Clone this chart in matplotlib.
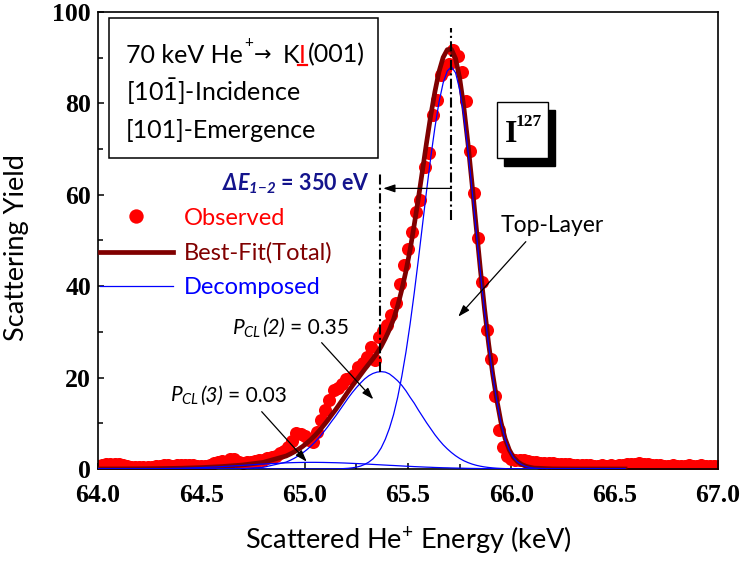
import matplotlib
matplotlib.use("Agg")
import matplotlib.pyplot as plt
from matplotlib import transforms
from matplotlib.patches import Rectangle
from matplotlib.lines import Line2D
from matplotlib.ticker import FixedLocator

# ---------------- data ----------------
energy_obs = [
    64.00, 64.02, 64.04, 64.06, 64.08, 64.10, 64.12, 64.14, 64.16, 64.18,
    64.20, 64.22, 64.24, 64.26, 64.28, 64.30, 64.32, 64.34, 64.36, 64.38,
    64.40, 64.42, 64.44, 64.46, 64.48, 64.50, 64.52, 64.54, 64.56, 64.58,
    64.60, 64.62, 64.64, 64.66, 64.68, 64.70, 64.72, 64.74, 64.76, 64.78,
    64.80, 64.82, 64.84, 64.86, 64.88, 64.90, 64.92, 64.94, 64.96, 64.98,
    65.00, 65.02, 65.04, 65.06, 65.08, 65.10, 65.12, 65.14, 65.16, 65.18,
    65.20, 65.22, 65.24, 65.26, 65.28, 65.30, 65.32, 65.34, 65.36, 65.38,
    65.40, 65.42, 65.44, 65.46, 65.48, 65.50, 65.52, 65.54, 65.56, 65.58,
    65.60, 65.62, 65.64, 65.66, 65.68, 65.70, 65.72, 65.74, 65.76, 65.78,
    65.80, 65.82, 65.84, 65.86, 65.88, 65.90, 65.92, 65.94, 65.96, 65.98,
    66.00, 66.02, 66.04, 66.06, 66.08, 66.10, 66.12, 66.14, 66.16, 66.18,
    66.20, 66.22, 66.24, 66.26, 66.28, 66.30, 66.32, 66.34, 66.36, 66.38,
    66.40, 66.42, 66.44, 66.46, 66.48, 66.50, 66.52, 66.54, 66.56, 66.58,
    66.60, 66.62, 66.64, 66.66, 66.68, 66.70, 66.72, 66.74, 66.76, 66.78,
    66.80, 66.82, 66.84, 66.86, 66.88, 66.90, 66.92, 66.94, 66.96, 66.98,
    67.00]
yield_obs = [
    0.7, 0.8, 1.0, 1.0, 1.1, 1.0, 0.9, 0.6, 0.5, 0.5,
    0.5, 0.4, 0.5, 0.5, 0.6, 0.6, 0.8, 0.8, 0.7, 0.8,
    0.8, 0.9, 0.8, 0.8, 0.7, 0.6, 0.7, 0.8, 1.2, 1.6,
    1.7, 1.6, 2.2, 2.1, 1.5, 1.4, 1.5, 1.6, 1.8, 1.9,
    2.0, 2.3, 2.6, 2.9, 3.4, 3.9, 4.8, 6.2, 7.8, 7.7,
    7.2, 6.4, 6.0, 8.0, 10.8, 12.9, 15.2, 17.2, 17.7, 18.6,
    19.6, 20.0, 20.6, 22.3, 23.2, 24.6, 26.6, 23.8, 28.8, 30.2,
    31.4, 33.6, 36.4, 40.5, 44.6, 48.2, 51.8, 56.2, 58.8, 66.0,
    69.2, 77.4, 80.8, 86.2, 87.4, 88.6, 91.6, 90.4, 86.8, 80.5,
    69.5, 60.5, 50.5, 41.0, 30.5, 24.0, 16.0, 8.5, 4.8, 2.8,
    2.2, 2.0, 1.9, 2.0, 1.8, 1.6, 1.5, 1.4, 1.3, 1.3,
    1.2, 1.1, 1.0, 1.0, 1.0, 0.9, 0.9, 0.9, 0.8, 0.8,
    0.7, 0.7, 0.8, 0.7, 0.8, 0.7, 0.9, 0.9, 1.1, 1.0,
    1.0, 1.2, 1.1, 1.0, 0.9, 0.8, 0.8, 0.7, 0.7, 0.8,
    0.7, 0.6, 0.7, 0.8, 0.7, 0.7, 0.8, 0.7, 0.6, 0.7,
    0.7]

fit_energy = [
    64.0, 64.1, 64.2, 64.3, 64.4, 64.5, 64.6, 64.7, 64.8,
    64.91, 64.93, 64.95, 64.97, 64.99, 65.01, 65.03, 65.05, 65.07, 65.09,
    65.11, 65.13, 65.15, 65.17, 65.19, 65.21, 65.23, 65.25, 65.27, 65.29,
    65.31, 65.33, 65.35, 65.37, 65.39, 65.41, 65.43, 65.45, 65.47, 65.49,
    65.51, 65.53, 65.55, 65.57, 65.59, 65.61, 65.63, 65.65, 65.67, 65.69,
    65.71, 65.73, 65.75, 65.77, 65.79, 65.81, 65.83, 65.85, 65.87, 65.89,
    65.91, 65.93, 65.95, 65.97, 65.99, 66.01, 66.03, 66.05, 66.07, 66.09,
    66.11, 66.2, 66.3, 66.4, 66.55]
fit_total = [
    0.0, 0.01, 0.03, 0.08, 0.16, 0.30, 0.53, 0.87, 1.45,
    2.84, 3.27, 3.75, 4.32, 4.93, 5.65, 6.45, 7.35, 8.34, 9.44,
    10.57, 11.81, 13.0, 14.29, 15.6, 16.92, 18.18, 19.39, 20.58, 21.8,
    22.95, 24.1, 25.35, 26.8, 28.55, 30.5, 32.76, 35.71, 39.26, 43.31,
    47.97, 53.42, 59.18, 65.34, 71.5, 77.37, 82.53, 86.95, 90.07, 91.75,
    91.82, 89.8, 85.48, 79.16, 71.24, 62.29, 52.92, 43.7, 35.13, 27.4,
    20.7, 15.02, 10.17, 6.62, 4.19, 2.57, 1.61, 0.99, 0.60, 0.36,
    0.19, 0.02, 0.0, 0.0, 0.0]
fit_top_layer = [
    0, 0, 0, 0, 0, 0, 0, 0, 0,
    0, 0, 0, 0, 0, 0, 0, 0, 0, 0.01,
    0.01, 0.02, 0.03, 0.05, 0.09, 0.15, 0.25, 0.40, 0.63, 1.0,
    1.5, 2.2, 3.2, 4.6, 6.5, 8.9, 11.9, 15.7, 20.3, 25.6,
    31.7, 38.5, 45.8, 53.4, 61.0, 68.2, 74.7, 80.3, 84.5, 87.1,
    88.0, 86.7, 83.0, 77.2, 69.7, 61.1, 52.0, 43.0, 34.6, 27.0,
    20.4, 14.8, 10.0, 6.5, 4.1, 2.5, 1.55, 0.95, 0.57, 0.33,
    0.18, 0.01, 0, 0, 0]
fit_second_layer = [
    0, 0, 0, 0, 0, 0, 0.01, 0.08, 0.37,
    1.5, 1.9, 2.35, 2.9, 3.5, 4.2, 5.0, 5.9, 6.9, 8.0,
    9.15, 10.4, 11.6, 12.9, 14.2, 15.5, 16.7, 17.8, 18.8, 19.7,
    20.4, 20.9, 21.2, 21.3, 21.2, 20.8, 20.1, 19.3, 18.3, 17.1,
    15.7, 14.4, 12.9, 11.5, 10.1, 8.8, 7.5, 6.35, 5.3, 4.4,
    3.6, 2.9, 2.3, 1.8, 1.4, 1.07, 0.81, 0.61, 0.45, 0.33,
    0.24, 0.17, 0.12, 0.08, 0.06, 0.04, 0.03, 0.02, 0.01, 0.01,
    0.0, 0, 0, 0, 0]
fit_third_layer = [
    0.0, 0.01, 0.03, 0.08, 0.16, 0.30, 0.52, 0.79, 1.08,
    1.34, 1.37, 1.40, 1.42, 1.43, 1.45, 1.45, 1.45, 1.44, 1.43,
    1.41, 1.39, 1.37, 1.34, 1.31, 1.27, 1.23, 1.19, 1.15, 1.10,
    1.05, 1.00, 0.95, 0.90, 0.85, 0.80, 0.76, 0.71, 0.66, 0.61,
    0.57, 0.52, 0.48, 0.44, 0.40, 0.37, 0.33, 0.30, 0.27, 0.25,
    0.22, 0.20, 0.18, 0.16, 0.14, 0.12, 0.11, 0.09, 0.08, 0.07,
    0.06, 0.05, 0.05, 0.04, 0.03, 0.03, 0.03, 0.02, 0.02, 0.02,
    0.01, 0.01, 0, 0, 0]

x_major = [64.0, 64.5, 65.0, 65.5, 66.0, 66.5, 67.0]
x_major_labels = ["64.0", "64.5", "65.0", "65.5", "66.0", "66.5", "67.0"]
x_minor = [64.25, 64.75, 65.25, 65.75, 66.25, 66.75]
y_major = [0, 20, 40, 60, 80, 100]
y_major_labels = ["0", "20", "40", "60", "80", "100"]
y_minor = [10, 30, 50, 70, 90]

legend_labels = ["Observed", "Best-Fit(Total)", "Decomposed"]

# peak positions / annotation anchors (data units)
top_peak_energy = 65.71
second_peak_energy = 65.365
top_line_span = (54.5, 96.5)
second_line_span = (21.3, 64.7)
delta_arrow_level = 61.4
delta_arrow_tip = 65.38

# ---------------- styling ----------------
plt.rcParams['mathtext.fontset'] = 'custom'
plt.rcParams['mathtext.rm'] = 'Lato'
plt.rcParams['mathtext.it'] = 'Lato:italic'
plt.rcParams['mathtext.bf'] = 'Lato:bold:italic'
plt.rcParams['font.family'] = ['Lato', 'DejaVu Sans']

SANS = ['Lato', 'DejaVu Sans']
SERIF = 'Liberation Serif'
RED = '#ff0000'
DARKRED = '#800000'
BLUE = '#0000ff'
NAVY = '#14148c'

fig = plt.figure(figsize=(7.42, 5.63), dpi=100)
ax = fig.add_axes([0.1321, 0.1670, 0.8356, 0.8117])

obs_line, = ax.plot(energy_obs, yield_obs, 'o', color=RED, ms=9.4,
                    mec='none', zorder=2)
tot_line, = ax.plot(fit_energy, fit_total, color=DARKRED, lw=3.4, zorder=3)
dec_line = None
for comp in (fit_top_layer, fit_second_layer, fit_third_layer):
    dec_line, = ax.plot(fit_energy, comp, color=BLUE, lw=0.9, zorder=4)

ax.set_xlim(64.0, 67.0)
ax.set_ylim(0, 100)
ax.xaxis.set_major_locator(FixedLocator(x_major))
ax.set_xticklabels(x_major_labels)
ax.xaxis.set_minor_locator(FixedLocator(x_minor))
ax.yaxis.set_major_locator(FixedLocator(y_major))
ax.set_yticklabels(y_major_labels)
ax.yaxis.set_minor_locator(FixedLocator(y_minor))
ax.tick_params(which='both', direction='in', top=False, right=False, width=1.1)
ax.tick_params(which='major', length=4.5)
ax.tick_params(which='minor', length=3.8)
ax.tick_params(axis='x', which='major', pad=11)
ax.tick_params(axis='y', which='major', pad=5)
for lbl in ax.get_xticklabels() + ax.get_yticklabels():
    lbl.set_fontfamily(SERIF)
    lbl.set_fontweight('bold')
    lbl.set_fontsize(18.5)
for sp in ax.spines.values():
    sp.set_linewidth(1.2)

ax.set_ylabel('Scattering Yield', fontsize=19.5, family=SANS)
ax.yaxis.set_label_coords(-0.112, 0.485)
ax.set_xlabel('Scattered He$^{+}$ Energy (keV)', fontsize=19.5, family=SANS)
ax.xaxis.set_label_coords(0.5, -0.12)

# legend
leg = ax.legend([obs_line, tot_line, dec_line], legend_labels,
                loc='upper left', bbox_to_anchor=(0.003, 0.572),
                frameon=False, prop={'family': SANS, 'size': 17},
                handlelength=3.1, handletextpad=0.45, labelspacing=0.58,
                borderpad=0, borderaxespad=0, numpoints=1, markerscale=1.1,
                labelcolor=[RED, DARKRED, BLUE])

# dash-dot reference lines and delta-E arrow
dashdot = (0, (4.8, 1.6, 1.0, 1.6))
ax.plot([top_peak_energy, top_peak_energy], top_line_span, color='k',
        lw=1.5, linestyle=dashdot, zorder=5)
ax.plot([second_peak_energy, second_peak_energy], second_line_span, color='k',
        lw=1.5, linestyle=dashdot, zorder=5)
arrow_kw = dict(arrowstyle='-|>,head_length=0.5,head_width=0.17', color='k',
                lw=0.9, mutation_scale=14, shrinkA=0, shrinkB=0)
ax.annotate('', xy=(delta_arrow_tip, delta_arrow_level),
            xytext=(top_peak_energy, delta_arrow_level),
            arrowprops=arrow_kw, zorder=6)

ax.text(64.5985, 61.05, r'$\mathbf{\Delta E_{1{-}2}}$ = 350 eV',
        fontsize=15.5, fontweight='bold', color=NAVY, family=SANS,
        ha='left', va='baseline', zorder=6)

renderer = fig.canvas.get_renderer()


def place_pieces(x, y, pieces, base):
    trans = base
    made = []
    for s, kw in pieces:
        kw = dict(kw)
        dx = kw.pop('dx', 0)
        dy = kw.pop('dy', 0)
        trans = transforms.offset_copy(trans, fig=fig, x=dx, y=0, units='dots')
        t = ax.text(x, y, s, transform=transforms.offset_copy(
            trans, fig=fig, x=0, y=dy, units='dots'),
            ha='left', va='baseline', zorder=9, **kw)
        ex = t.get_window_extent(renderer)
        trans = transforms.offset_copy(trans, fig=fig, x=ex.width, units='dots')
        made.append(t)
    return made


# component annotations
PFS = 15
for (tx, ty), idx, val in [((64.647, 29.47), '(2)', '= 0.35'),
                           ((64.348, 14.73), '(3)', '= 0.03')]:
    place_pieces(tx, ty, [
        (r'$P_{CL}$', dict(fontsize=PFS, family=SANS)),
        (idx, dict(fontsize=PFS, family=SANS, style='italic', dx=1)),
        (val, dict(fontsize=PFS, family=SANS, dx=5)),
    ], ax.transData)
ax.annotate('', xy=(65.332, 15.25), xytext=(65.082, 27.64),
            arrowprops=arrow_kw, zorder=6)
ax.annotate('', xy=(65.010, 1.60), xytext=(64.792, 12.54),
            arrowprops=arrow_kw, zorder=6)
ax.text(65.9485, 51.93, 'Top-Layer', fontsize=16.5, family=SANS,
        ha='left', va='baseline', zorder=6)
ax.annotate('', xy=(65.743, 33.33), xytext=(66.070, 49.74),
            arrowprops=arrow_kw, zorder=6)

# I-127 box with shadow
ax.add_patch(Rectangle((0.6431 + 0.0113, 0.6812 - 0.0175), 0.0832, 0.1212,
                       transform=ax.transAxes, facecolor='k', edgecolor='k',
                       zorder=7))
ax.add_patch(Rectangle((0.6431, 0.6812), 0.0832, 0.1212,
                       transform=ax.transAxes, facecolor='white',
                       edgecolor='k', lw=1.0, zorder=8))
ax.text(0.6560, 0.7162, 'I', transform=ax.transAxes, family=SERIF,
        fontweight='bold', fontsize=23, ha='left', va='baseline', zorder=9)
ax.text(0.6742, 0.7505, '127', transform=ax.transAxes, family=SERIF,
        fontweight='bold', fontsize=12.5, ha='left', va='baseline', zorder=9)

# top-left info box
ax.add_patch(Rectangle((0.0177, 0.6805), 0.4339, 0.3063,
                       transform=ax.transAxes, facecolor='white',
                       edgecolor='k', lw=1.1, zorder=7))

BOX_FS = 18
line1 = place_pieces(0.0452, 0.8891, [
    ('70 keV He', dict(fontsize=BOX_FS, family=SANS)),
    ('+', dict(fontsize=11, family=SANS, dx=1, dy=16)),
    ('\u2192', dict(fontsize=15, family=['DejaVu Sans'], dx=1, dy=1)),
    ('K', dict(fontsize=BOX_FS, family=SANS, dx=11)),
    ('I', dict(fontsize=BOX_FS, family=SANS, color=RED)),
    ('(001)', dict(fontsize=BOX_FS, family=SANS, dx=2)),
], ax.transAxes)
ex_i = line1[4].get_window_extent(renderer)
fig.add_artist(Line2D([ex_i.x0 - 1, ex_i.x1 + 1],
                      [ex_i.y0 + 2.0, ex_i.y0 + 2.0],
                      transform=transforms.IdentityTransform(),
                      color=RED, lw=1.6, zorder=10))

ax.text(0.0452, 0.8059, r'[10$\bar{1}$]-Incidence', transform=ax.transAxes,
        fontsize=BOX_FS, family=SANS, ha='left', va='baseline', zorder=9)
ax.text(0.0452, 0.7249, '[101]-Emergence', transform=ax.transAxes,
        fontsize=BOX_FS, family=SANS, ha='left', va='baseline', zorder=9)

fig.savefig('out.png', dpi=100)
